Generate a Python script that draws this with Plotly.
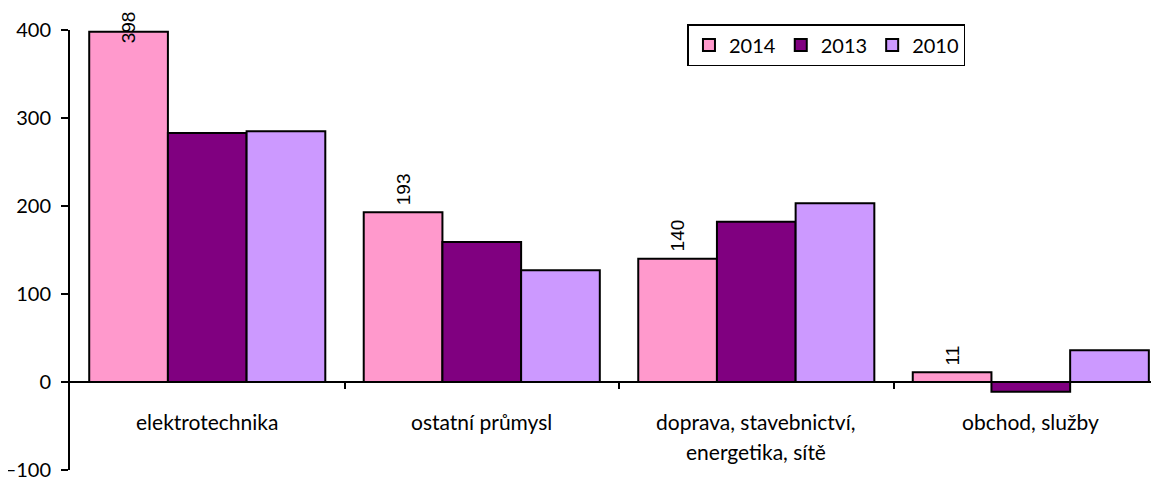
import plotly.graph_objects as go

categories = ["elektrotechnika", "ostatní průmysl",
              "doprava, stavebnictví, energetika, sítě", "obchod, služby"]
tick_lines = [["elektrotechnika"], ["ostatní průmysl"],
              ["doprava, stavebnictví,", "energetika, sítě"], ["obchod, služby"]]
years = ["2014", "2013", "2010"]
v2014 = [398, 193, 140, 11]
v2013 = [283, 159, 182, -11]
v2010 = [285, 127, 203, 36]
colors = ["#FF99CC", "#800080", "#CC99FF"]

axis_font = dict(family="Lato", size=20, color="black")
cat_font = dict(family="Lato", size=21, color="black")
label_font = dict(family="Liberation Sans", size=19, color="black")

bargap = 0.14
fig = go.Figure()
for name, vals, col in zip(years, [v2014, v2013, v2010], colors):
    fig.add_trace(go.Bar(
        x=list(range(len(categories))), y=vals, name=name,
        marker=dict(color=col, line=dict(color="black", width=2)),
    ))

# data labels of the 2014 series, rotated
w = (1 - bargap) / 3
for i, v in enumerate(v2014):
    fig.add_annotation(
        x=i - w, y=v, xref="x", yref="y", text=str(v), showarrow=False,
        textangle=-90, font=label_font, xanchor="center", yanchor="bottom",
        yshift=5 if v < 350 else -14,
    )

# category labels under the zero line
for i, lines in enumerate(tick_lines):
    for k, line in enumerate(lines):
        fig.add_annotation(
            x=i, y=0, xref="x", yref="y", text=line, showarrow=False,
            font=cat_font, xanchor="center", yanchor="middle",
            yshift=-39 - 30 * k,
        )

# page body has an 8px margin, so the figure is shifted by 8px
fig.update_layout(
    width=1151, height=477,
    margin=dict(l=62, r=0, t=22, b=15, autoexpand=False),
    paper_bgcolor="white", plot_bgcolor="white",
    barmode="group", bargap=bargap, bargroupgap=0,
    legend=dict(
        orientation="h", x=0.567, y=1.0136, xanchor="left", yanchor="top",
        font=axis_font, bordercolor="black", borderwidth=1.5,
        bgcolor="white", traceorder="normal",
    ),
    xaxis=dict(
        type="linear", range=[-0.5, 3.467], anchor="free", position=0.2,
        showline=True, linecolor="black", linewidth=2,
        ticks="outside", ticklen=6, tickwidth=2, tickcolor="black",
        tickvals=[0.5, 1.5, 2.5], showticklabels=False,
        showgrid=False, zeroline=False, automargin=False,
    ),
    yaxis=dict(
        range=[-100, 400], dtick=100, showline=True, linecolor="black",
        linewidth=2, ticks="outside", ticklen=7, tickwidth=2,
        tickcolor="black", tickfont=axis_font, showgrid=False,
        zeroline=False, ticklabelstandoff=6, automargin=False,
    ),
)

fig.write_html("out.html")
